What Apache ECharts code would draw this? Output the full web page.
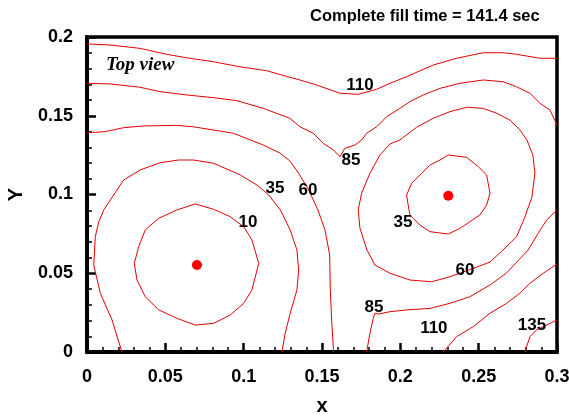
<!DOCTYPE html>
<html>
<head>
<meta charset="utf-8">
<script src="https://cdn.jsdelivr.net/npm/echarts@6/dist/echarts.min.js"></script>
<style>
  html, body { margin: 0; padding: 0; background: #fff; }
  #chart { width: 569px; height: 416px; }
</style>
</head>
<body>
<div id="chart"></div>
<script>
// contour lines of fill time (sec) as [x, y]
const contour10 = [[0.0691,0.0940],[0.0809,0.0906],[0.0914,0.0859],[0.1000,0.0796],[0.1053,0.0711],[0.1096,0.0563],[0.1053,0.0394],[0.1000,0.0309],[0.0914,0.0235],[0.0809,0.0182],[0.0691,0.0171],[0.0574,0.0214],[0.0458,0.0267],[0.0372,0.0351],[0.0319,0.0457],[0.0302,0.0563],[0.0330,0.0669],[0.0372,0.0775],[0.0458,0.0849],[0.0574,0.0902],[0.0691,0.0940]];
const contour35Left = [[0.0223,0],[0.0160,0.0203],[0.0085,0.0373],[0.0043,0.0552],[0.0053,0.0732],[0.0075,0.0827],[0.0107,0.0902],[0.0149,0.0965],[0.0234,0.1092],[0.0340,0.1156],[0.0468,0.1202],[0.0585,0.1219],[0.0681,0.1219],[0.0809,0.1198],[0.0978,0.1124],[0.1085,0.1060],[0.1160,0.0997],[0.1234,0.0902],[0.1297,0.0775],[0.1340,0.0648],[0.1351,0.0521],[0.1340,0.0394],[0.1297,0.0246],[0.1265,0.0119],[0.1244,0]];
const contour35Right = [[0.2306,0.1251],[0.2423,0.1236],[0.2497,0.1177],[0.2551,0.1124],[0.2572,0.1008],[0.2551,0.0933],[0.2508,0.0870],[0.2444,0.0827],[0.2380,0.0785],[0.2306,0.0749],[0.2189,0.0764],[0.2125,0.0806],[0.2061,0.0870],[0.2050,0.0933],[0.2040,0.0997],[0.2072,0.1071],[0.2125,0.1124],[0.2189,0.1187],[0.2253,0.1219],[0.2306,0.1251]];
const contour60Left = [[0,0.1392],[0.0115,0.1399],[0.0232,0.1424],[0.0359,0.1435],[0.0572,0.1439],[0.0678,0.1430],[0.0934,0.1389],[0.1125,0.1314],[0.1232,0.1263],[0.1295,0.1213],[0.1351,0.1135],[0.1415,0.1029],[0.1474,0.0902],[0.1519,0.0775],[0.1549,0.0616],[0.1553,0.0394],[0.1563,0.0182],[0.1574,0]];
const contour60Right = [[0.1997,0.1346],[0.2104,0.1427],[0.2210,0.1484],[0.2317,0.1526],[0.2423,0.1554],[0.2529,0.1547],[0.2615,0.1516],[0.2699,0.1473],[0.2763,0.1410],[0.2808,0.1346],[0.2846,0.1251],[0.2859,0.1137],[0.2840,0.0984],[0.2795,0.0857],[0.2742,0.0732],[0.2668,0.0660],[0.2572,0.0571],[0.2465,0.0531],[0.2317,0.0478],[0.2200,0.0446],[0.2061,0.0457],[0.1934,0.0500],[0.1838,0.0552],[0.1787,0.0648],[0.1742,0.0787],[0.1731,0.0902],[0.1753,0.1008],[0.1806,0.1135],[0.1870,0.1251],[0.1934,0.1321],[0.1997,0.1346]];
const contour85Top = [[0,0.1706],[0.0147,0.1702],[0.0338,0.1681],[0.0466,0.1653],[0.0636,0.1632],[0.0806,0.1615],[0.0955,0.1596],[0.1125,0.1547],[0.1295,0.1484],[0.1359,0.1430],[0.1444,0.1389],[0.1508,0.1325],[0.1572,0.1283],[0.1615,0.1240],[0.1646,0.1293],[0.1710,0.1314],[0.1753,0.1346],[0.1785,0.1389],[0.1849,0.1430],[0.1913,0.1494],[0.1997,0.1547],[0.2061,0.1589],[0.2146,0.1632],[0.2253,0.1674],[0.2380,0.1706],[0.2529,0.1727],[0.2657,0.1716],[0.2742,0.1684],[0.2827,0.1643],[0.2891,0.1579],[0.2955,0.1537],[0.3,0.1441]];
const contour85Bottom = [[0.1785,0],[0.1806,0.0119],[0.1827,0.0214],[0.1838,0.0246],[0.1859,0.0241],[0.1934,0.0256],[0.2040,0.0267],[0.2189,0.0277],[0.2317,0.0309],[0.2444,0.0351],[0.2572,0.0425],[0.2678,0.0502],[0.2750,0.0578],[0.2816,0.0648],[0.2880,0.0754],[0.2934,0.0838],[0.3,0.0902]];
const contour110Top = [[0,0.1956],[0.0147,0.1949],[0.0338,0.1928],[0.0509,0.1890],[0.0636,0.1868],[0.0806,0.1843],[0.0976,0.1811],[0.1147,0.1786],[0.1295,0.1744],[0.1359,0.1727],[0.1466,0.1695],[0.1615,0.1643],[0.1731,0.1636],[0.1849,0.1668],[0.1934,0.1706],[0.2040,0.1748],[0.2210,0.1822],[0.2359,0.1865],[0.2529,0.1900],[0.2657,0.1900],[0.2742,0.1890],[0.2891,0.1865],[0.3,0.1865]];
const contour110Bottom = [[0.2274,0],[0.2359,0.0097],[0.2465,0.0161],[0.2572,0.0246],[0.2678,0.0309],[0.2763,0.0373],[0.2827,0.0436],[0.2912,0.0500],[0.3,0.0559]];
const contour135 = [[0.2795,0],[0.2827,0.0097],[0.2870,0.0140],[0.2934,0.0171],[0.3,0.0203]];

// injection points
const gates = [[0.0702,0.0552],[0.2306,0.0992]];

// contour labels [x, y, text]
const contourLabels = [
  [0.1027,0.0825,'10'],
  [0.1200,0.1040,'35'],
  [0.1410,0.1029,'60'],
  [0.1685,0.1219,'85'],
  [0.1742,0.1695,'110'],
  [0.2017,0.0825,'35'],
  [0.2412,0.0521,'60'],
  [0.1832,0.0286,'85'],
  [0.2214,0.0152,'110'],
  [0.2840,0.0171,'135']
];

const xTicks = [0, 0.05, 0.1, 0.15, 0.2, 0.25, 0.3];
const yTicks = [0, 0.05, 0.1, 0.15, 0.2];

const RED = '#e00000';
const FONT = 'Liberation Sans, Arial, sans-serif';

const contours = [contour10, contour35Left, contour35Right, contour60Left, contour60Right,
  contour85Top, contour85Bottom, contour110Top, contour110Bottom, contour135];

const chart = echarts.init(document.getElementById('chart'), null, { renderer: 'canvas' });

const fmt = v => String(+v.toFixed(2));

const axisCommon = {
  type: 'value',
  axisLine: { show: true, lineStyle: { color: '#000', width: 4 } },
  axisTick: { show: true, inside: true, length: 9, lineStyle: { color: '#000', width: 2.5 } },
  minorTick: { show: true, splitNumber: 5, length: 5, lineStyle: { color: '#000', width: 1.5 } },
  splitLine: { show: false },
  axisLabel: { color: '#000', fontFamily: FONT, fontWeight: 'bold', fontSize: 18, formatter: fmt },
  nameTextStyle: { color: '#000', fontFamily: FONT, fontWeight: 'bold', fontSize: 20 }
};

chart.setOption({
  animation: false,
  title: {
    text: 'Complete fill time = 141.4 sec',
    left: 305,
    top: 3,
    textStyle: { fontFamily: FONT, fontWeight: 'bold', fontSize: 16.5, color: '#000' }
  },
  graphic: [{
    type: 'text',
    left: 106,
    top: 56,
    style: { text: 'Top view', font: 'italic bold 19px "Liberation Serif", "Times New Roman", serif', fill: '#000' }
  }],
  grid: {
    left: 87, right: 12, top: 37, bottom: 64,
    outerBoundsMode: 'none', containLabel: false,
    show: true, borderColor: '#000', borderWidth: 3.5
  },
  xAxis: Object.assign({}, axisCommon, {
    min: xTicks[0], max: xTicks[xTicks.length - 1], interval: 0.05,
    name: 'x', nameLocation: 'middle', nameGap: 44,
    axisLabel: Object.assign({}, axisCommon.axisLabel, { margin: 16 })
  }),
  yAxis: Object.assign({}, axisCommon, {
    min: yTicks[0], max: yTicks[yTicks.length - 1], interval: 0.05,
    name: 'Y', nameLocation: 'middle', nameGap: 61,
    axisLabel: Object.assign({}, axisCommon.axisLabel, { margin: 14 })
  }),
  series: contours.map(c => ({
    type: 'line',
    data: c,
    showSymbol: false,
    symbol: 'none',
    lineStyle: { color: RED, width: 1 },
    silent: true
  })).concat([{
    type: 'scatter',
    data: gates,
    symbol: 'circle',
    symbolSize: 10,
    itemStyle: { color: '#ff0000', opacity: 1 },
    z: 5
  }, {
    type: 'scatter',
    data: contourLabels,
    symbolSize: 1,
    itemStyle: { color: 'rgba(0,0,0,0)', opacity: 1 },
    label: {
      show: true,
      position: 'inside',
      formatter: p => p.data[2],
      color: '#000',
      fontFamily: FONT,
      fontWeight: 'bold',
      fontSize: 17
    },
    z: 6
  }])
});
</script>
</body>
</html>
